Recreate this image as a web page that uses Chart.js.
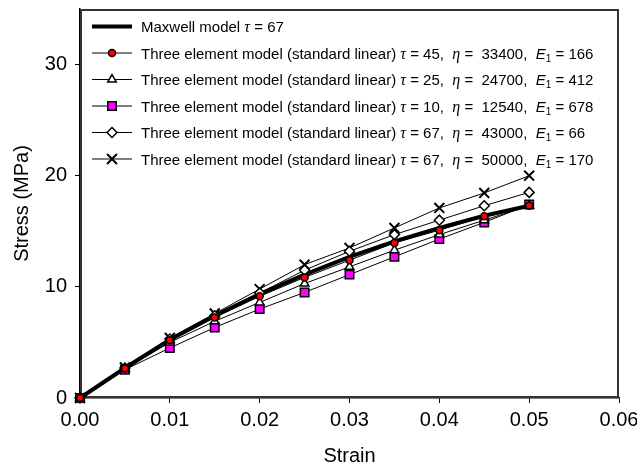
<!DOCTYPE html>
<html>
<head>
<meta charset="utf-8">
<title>Stress vs strain</title>
<script src="https://cdn.jsdelivr.net/npm/chart.js@4.4.1/dist/chart.umd.min.js"></script>
<style>
  html, body { margin: 0; padding: 0; background: #fff; }
  #wrap { width: 637px; height: 468px; }
</style>
</head>
<body>
<div id="wrap"><canvas id="stressChart" width="637" height="468"></canvas></div>
<script>
// strain steps shared by every model
const strain = [0, 0.005, 0.01, 0.015, 0.02, 0.025, 0.03, 0.035, 0.04, 0.045, 0.05];

// stress (MPa) per model
const maxwellStress = [0, 2.7, 5.25, 7.4, 9.35, 11.1, 12.7, 14.1, 15.3, 16.4, 17.3];
const circleStress  = [0, 2.65, 5.2, 7.25, 9.15, 10.85, 12.4, 13.95, 15.1, 16.35, 17.3];
const triStress     = [0, 2.6, 5.0, 6.9, 8.6, 10.3, 11.8, 13.3, 14.7, 16.0, 17.3];
const squareStress  = [0, 2.55, 4.5, 6.35, 8.0, 9.5, 11.1, 12.7, 14.3, 15.8, 17.4];
const diamondStress = [0, 2.7, 5.3, 7.4, 9.45, 11.5, 13.2, 14.7, 16.0, 17.3, 18.5];
const crossStress   = [0, 2.75, 5.4, 7.6, 9.8, 12.0, 13.5, 15.3, 17.1, 18.45, 20.0];

// model parameters shown in the legend
const maxwellTau = 67;
const tau = [45, 25, 10, 67, 67];
const eta = [33400, 24700, 12540, 43000, 50000];
const e1  = [166, 412, 678, 66, 170];

const xTicks = [0, 0.01, 0.02, 0.03, 0.04, 0.05, 0.06];
const yTicks = [0, 10, 20, 30];

const SANS = '"Liberation Sans", Arial, Helvetica, sans-serif';

function sample(stress) {
  return strain.map((x, i) => ({ x: x, y: stress[i] }));
}

function seList(stress, style, fill, radius, extra) {
  return Object.assign({
    data: sample(stress),
    borderColor: '#000',
    borderWidth: 1,
    pointStyle: style,
    pointRadius: radius,
    pointBackgroundColor: fill,
    pointBorderColor: '#000',
    pointBorderWidth: 1.5,
    tension: 0,
    clip: false,
    order: 0
  }, extra || {});
}

const datasets = [
  {
    data: sample(maxwellStress),
    borderColor: '#000',
    borderWidth: 4,
    pointRadius: 0,
    pointStyle: false,
    tension: 0,
    clip: false,
    order: 1
  },
  seList(circleStress, 'circle', '#ff0000', 3.5),
  seList(triStress, 'triangle', '#fff', 5),
  seList(squareStress, 'rect', '#ff00ff', 6),
  seList(diamondStress, 'rectRot', '#fff', 5),
  seList(crossStress, 'crossRot', '#000', 7, { pointBorderWidth: 2 })
];

// legend rows: array of [text, style] runs
function legendRuns(i) {
  if (i === 0) {
    return [['Maxwell model ', 'n'], ['\u03C4', 'g'], [' = ' + maxwellTau, 'n']];
  }
  const k = i - 1;
  return [
    ['Three element model (standard linear) ', 'n'],
    ['\u03C4', 'g'], [' = ' + tau[k] + ',  ', 'n'],
    ['\u03B7', 'g'], [' =  ' + eta[k] + ',  ', 'n'],
    ['E', 'i'], ['1', 's'], [' = ' + e1[k], 'n']
  ];
}

const runFonts = {
  n: '15px ' + SANS,
  g: 'italic 16px "Liberation Serif", "Times New Roman", serif',
  i: 'italic 15px ' + SANS,
  s: '10px ' + SANS
};

// dark frame round the plot, drawn under the datasets
const framePlugin = {
  id: 'plotFrame',
  beforeDatasetsDraw(chart) {
    const ctx = chart.ctx;
    const a = chart.chartArea;
    ctx.save();
    ctx.strokeStyle = '#333333';
    ctx.lineWidth = 2;
    ctx.strokeRect(a.left + 1, a.top + 1, a.right - a.left - 2, a.bottom - a.top - 2);
    ctx.restore();
  }
};

// legend drawn inside the plot, top left
const legendPlugin = {
  id: 'richLegend',
  afterDraw(chart) {
    const ctx = chart.ctx;
    const area = chart.chartArea;
    const x0 = area.left + 12, x1 = area.left + 52, tx = area.left + 61;
    ctx.save();
    chart.data.datasets.forEach((ds, i) => {
      const y = 26.5 + i * 26.5;
      ctx.strokeStyle = '#000';
      ctx.lineWidth = ds.borderWidth;
      ctx.beginPath();
      ctx.moveTo(x0, y);
      ctx.lineTo(x1, y);
      ctx.stroke();
      if (ds.pointStyle) {
        ctx.fillStyle = ds.pointBackgroundColor;
        ctx.strokeStyle = ds.pointBorderColor;
        ctx.lineWidth = ds.pointBorderWidth;
        Chart.helpers.drawPoint(ctx, {
          pointStyle: ds.pointStyle,
          radius: ds.pointRadius,
          rotation: 0,
          borderWidth: ds.pointBorderWidth
        }, (x0 + x1) / 2, y);
      }
      // label text with italic symbols and subscript
      let x = tx;
      ctx.fillStyle = '#000';
      ctx.textBaseline = 'middle';
      ctx.textAlign = 'left';
      legendRuns(i).forEach(([t, s]) => {
        ctx.font = runFonts[s];
        ctx.fillText(t, x, y + (s === 's' ? 6 : 1.5));
        x += ctx.measureText(t).width;
      });
    });
    ctx.restore();
  }
};

new Chart(document.getElementById('stressChart'), {
  type: 'line',
  data: { datasets: datasets },
  plugins: [framePlugin, legendPlugin],
  options: {
    responsive: false,
    animation: false,
    events: [],
    layout: { padding: { left: 0, right: 18, top: 0, bottom: 0 } },
    plugins: { legend: { display: false }, tooltip: { enabled: false } },
    scales: {
      x: {
        type: 'linear',
        min: 0,
        max: 0.06,
        afterBuildTicks: (s) => { s.ticks = xTicks.map(v => ({ value: v })); },
        afterFit: (s) => {
          s.height = 70;
          s.paddingLeft = 0;
          s.paddingRight = 0;
        },
        grid: { drawOnChartArea: false, tickLength: 5, color: '#000' },
        border: { color: '#000', width: 1.5 },
        ticks: {
          color: '#000',
          padding: 5,
          maxRotation: 0,
          font: { family: SANS, size: 20 },
          callback: (v) => Number(v).toFixed(2)
        },
        title: {
          display: true,
          text: 'Strain',
          color: '#000',
          font: { family: SANS, size: 20 },
          padding: 0
        }
      },
      y: {
        min: 0,
        max: 35,
        afterBuildTicks: (s) => { s.ticks = yTicks.map(v => ({ value: v })); },
        afterFit: (s) => {
          s.width = 80;
          s.paddingTop = 0;
          s.paddingBottom = 0;
        },
        grid: { drawOnChartArea: false, tickLength: 5, color: '#000' },
        border: { color: '#000', width: 1.5 },
        ticks: {
          color: '#000',
          padding: 8,
          font: { family: SANS, size: 20 }
        },
        title: {
          display: true,
          text: 'Stress (MPa)',
          color: '#000',
          font: { family: SANS, size: 20 },
          padding: { top: 10, bottom: 0 }
        }
      }
    }
  }
});
</script>
</body>
</html>
